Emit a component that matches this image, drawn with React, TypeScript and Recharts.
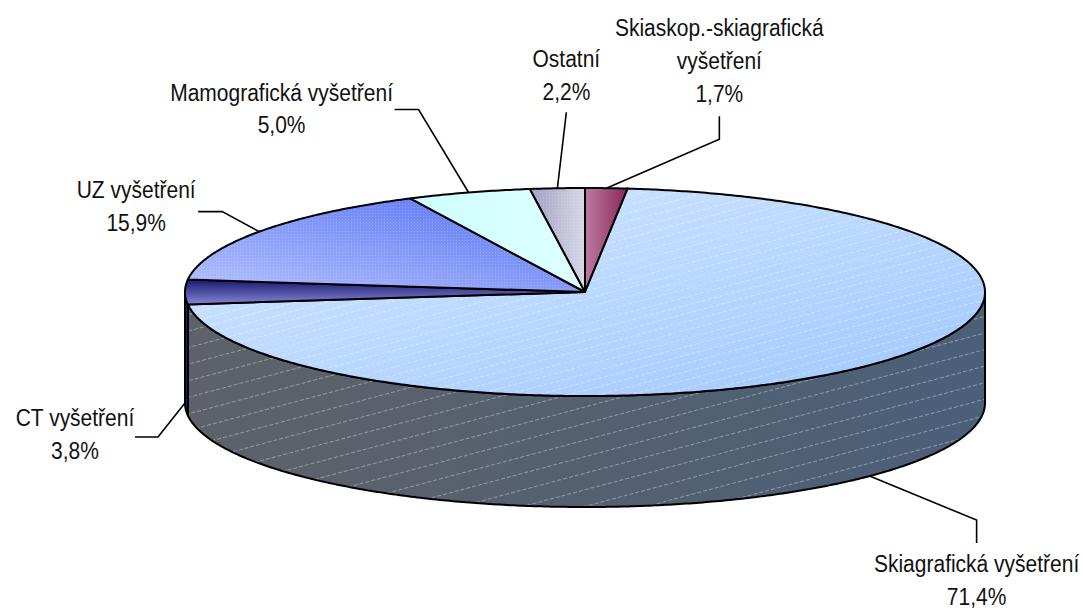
import React from "react";
import { PieChart, Pie, Cell } from "recharts";

// categories in drawing order (clockwise from 12 o'clock)
const CATEGORIES = [
  "Skiaskop.-skiagrafická vyšetření",
  "Skiagrafická vyšetření",
  "CT vyšetření",
  "UZ vyšetření",
  "Mamografická vyšetření",
  "Ostatní",
];
const SHARES = [1.7, 71.4, 3.8, 15.9, 5.0, 2.2];

const data = CATEGORIES.map((name, i) => ({ name, value: SHARES[i] }));

const W = 1083;
const H = 610;
const CX = 585;
const CY = 292;
const RX = 400;
const TILT = 0.26; // vertical squash of the pie disc
const DEPTH = 111;
const RAD = Math.PI / 180;

// label placement, relative to the leader anchor on the pie rim
const LABEL_LAYOUT: {
  elbow: [number, number] | null;
  end: [number, number];
  text: [number, number];
  wrap?: boolean;
}[] = [
  { elbow: [113, -49], end: [113, -72], text: [113, -152], wrap: true },
  { elbow: [107, 44], end: [107, 67], text: [107, 96] },
  { elbow: [-27, 34], end: [-50, 34], text: [-110, 23] },
  { elbow: [-37, -20], end: [-61, -20], text: [-123, -34] },
  { elbow: [-50, -83], end: [-74, -83], text: [-187, -92] },
  { elbow: null, end: [9, -76], text: [9, -121] },
];

const WALL_FILLS = ["#8c2858", "url(#wall1)", "#26267e", "#5a72e8", "#bfeeee", "#9c9cbc"];
const TOP_FILLS = ["url(#top0)", "url(#top1)", "url(#top2)", "url(#top3)", "url(#top4)", "url(#top5)"];
const TOP_OVERLAY = [null, "url(#hatchTop)", null, "url(#dots)", null, "url(#dots)"];

function pt(cx: number, cy: number, r: number, a: number, dy = 0): [number, number] {
  return [cx + r * Math.cos(a * RAD), cy - r * TILT * Math.sin(a * RAD) + dy];
}

function arc(cx: number, cy: number, r: number, from: number, to: number, dy = 0) {
  const steps = Math.max(2, Math.ceil(Math.abs(to - from) / 0.5));
  const out: string[] = [];
  for (let k = 0; k <= steps; k++) {
    const a = from + ((to - from) * k) / steps;
    const [x, y] = pt(cx, cy, r, a, dy);
    out.push(`${x.toFixed(2)},${y.toFixed(2)}`);
  }
  return out;
}

function Slice3D(props: any) {
  const { cx, cy, outerRadius, startAngle, endAngle } = props;
  const nm = props.payload?.name ?? props.name;
  const i = Math.max(0, CATEGORIES.indexOf(nm));
  const lo = Math.min(startAngle, endAngle);
  const hi = Math.max(startAngle, endAngle);

  // outer wall only where the rim faces the viewer
  const walls: [number, number][] = [];
  for (const [f0, f1] of [
    [-180, 0],
    [180, 360],
    [-540, -360],
  ]) {
    const a = Math.max(lo, f0);
    const b = Math.min(hi, f1);
    if (b > a) walls.push([a, b]);
  }

  const top =
    `M${cx},${cy} L` + arc(cx, cy, outerRadius, startAngle, endAngle).join(" L") + " Z";

  return (
    <g>
      {walls.map(([a, b], k) => {
        const d =
          "M" +
          arc(cx, cy, outerRadius, a, b).join(" L") +
          " L" +
          arc(cx, cy, outerRadius, b, a, DEPTH).join(" L") +
          " Z";
        return (
          <g key={k}>
            <path d={d} fill={WALL_FILLS[i]} stroke="none" />
            {i === 1 && <path d={d} fill="url(#hatchWall)" stroke="none" />}
            <path d={d} fill="none" stroke="#000" strokeWidth={2} strokeLinejoin="round" />
          </g>
        );
      })}
      <path d={top} fill={TOP_FILLS[i]} stroke="none" />
      {TOP_OVERLAY[i] && <path d={top} fill={TOP_OVERLAY[i] as string} stroke="none" />}
      <path d={top} fill="none" stroke="#000" strokeWidth={2} strokeLinejoin="round" />
    </g>
  );
}

function pctText(v: number) {
  return v.toFixed(1).replace(".", ",") + "%";
}

function renderLabel(props: any) {
  const { cx, cy, midAngle, outerRadius, index, value } = props;
  const L = LABEL_LAYOUT[index];
  if (!L) return null;
  const front = Math.sin(midAngle * RAD) < 0.02;
  const [ax, ay] = pt(cx, cy, outerRadius, midAngle, front ? DEPTH : 0);
  const pts: [number, number][] = [[ax, ay]];
  if (L.elbow) pts.push([ax + L.elbow[0], ay + L.elbow[1]]);
  pts.push([ax + L.end[0], ay + L.end[1]]);

  const name = CATEGORIES[index];
  let lines: string[];
  if (L.wrap) {
    const cut = name.lastIndexOf(" ");
    lines = [name.slice(0, cut), name.slice(cut + 1), pctText(value)];
  } else {
    lines = [name, pctText(value)];
  }
  const tx = ax + L.text[0];
  const ty = ay + L.text[1];

  return (
    <g key={`lbl-${index}`}>
      <polyline
        points={pts.map((p) => p.join(",")).join(" ")}
        fill="none"
        stroke="#000"
        strokeWidth={1.6}
      />
      <g transform={`translate(${tx},${ty}) scale(1,1.1)`}>
        {lines.map((l, k) => (
          <text
            key={k}
            x={0}
            y={k * 30}
            textAnchor="middle"
            fontSize={21}
            fontFamily="'Liberation Sans', Arial, sans-serif"
            fill="#111"
          >
            {l}
          </text>
        ))}
      </g>
    </g>
  );
}

export default function App() {
  return (
    <div
      style={{
        position: "absolute",
        left: 0,
        top: 0,
        width: W,
        height: H,
        background: "#fff",
      }}
    >
      <PieChart width={W} height={H} margin={{ top: 0, right: 0, bottom: 0, left: 0 }}>
        <defs>
          <linearGradient id="top0" x1="0" y1="0" x2="1" y2="0">
            <stop offset="0" stopColor="#bc7ca1" />
            <stop offset="1" stopColor="#8a2656" />
          </linearGradient>
          <linearGradient id="top1" x1="0" y1="0" x2="1" y2="1">
            <stop offset="0" stopColor="#d6e9ff" />
            <stop offset="1" stopColor="#a0c7ff" />
          </linearGradient>
          <linearGradient id="wall1" x1="0" y1="0" x2="1" y2="0">
            <stop offset="0" stopColor="#5e6268" />
            <stop offset="1" stopColor="#4b5f79" />
          </linearGradient>
          <linearGradient id="top2" x1="0" y1="0" x2="0" y2="1">
            <stop offset="0" stopColor="#18186e" />
            <stop offset="1" stopColor="#8686d6" />
          </linearGradient>
          <linearGradient id="top3" x1="1" y1="0" x2="0" y2="1">
            <stop offset="0" stopColor="#5370f2" />
            <stop offset="1" stopColor="#b6c2ff" />
          </linearGradient>
          <linearGradient id="top4" x1="0" y1="0" x2="1" y2="0">
            <stop offset="0" stopColor="#ccfefe" />
            <stop offset="1" stopColor="#e0ffff" />
          </linearGradient>
          <linearGradient id="top5" x1="0" y1="0" x2="1" y2="0">
            <stop offset="0" stopColor="#a0a0c2" />
            <stop offset="1" stopColor="#d8d8e8" />
          </linearGradient>
          <pattern
            id="hatchTop"
            width="6"
            height="8"
            patternUnits="userSpaceOnUse"
            patternTransform="rotate(-15)"
          >
            <rect x="0" y="0" width="4" height="1" fill="#ffffff" fillOpacity="0.35" />
          </pattern>
          <pattern
            id="hatchWall"
            width="6"
            height="16"
            patternUnits="userSpaceOnUse"
            patternTransform="rotate(-15)"
          >
            <rect x="0" y="0" width="4" height="1" fill="#b4bccb" fillOpacity="0.6" />
          </pattern>
          <pattern id="dots" width="3" height="3" patternUnits="userSpaceOnUse">
            <rect x="0" y="0" width="1" height="1" fill="#ffffff" fillOpacity="0.18" />
          </pattern>
        </defs>
        <Pie
          data={data}
          dataKey="value"
          nameKey="name"
          cx={CX}
          cy={CY}
          innerRadius={0}
          outerRadius={RX}
          startAngle={90}
          endAngle={-270}
          stroke="none"
          isAnimationActive={false}
          labelLine={false}
          label={renderLabel}
          shape={Slice3D}
          activeShape={Slice3D}
          inactiveShape={Slice3D}
        >
          {data.map((d, i) => (
            <Cell key={d.name} fill={TOP_FILLS[i]} />
          ))}
        </Pie>
      </PieChart>
    </div>
  );
}
